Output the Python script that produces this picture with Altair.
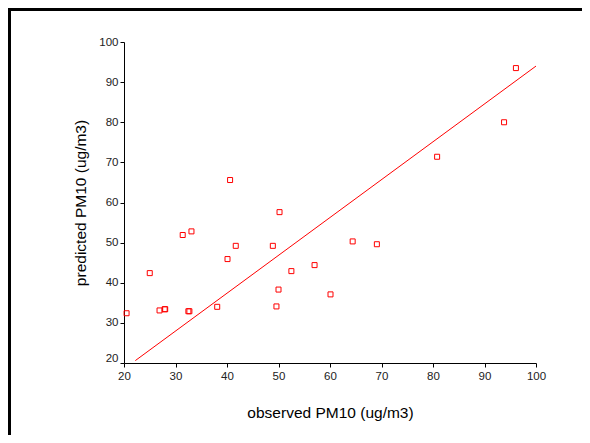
import altair as alt
import pandas as pd

observed = [20.5, 25.0, 26.9, 27.9, 28.0, 31.4, 33.1, 32.5, 32.7, 38.1, 40.1, 41.7, 40.6,
            50.2, 48.9, 52.5, 57.0, 50.0, 49.6, 60.1, 64.4, 69.1, 80.8, 96.1, 93.8]
predicted = [32.4, 42.4, 33.1, 33.4, 33.4, 51.9, 52.8, 32.9, 32.9, 34.0, 45.9, 49.2, 65.6,
             57.6, 49.2, 42.9, 44.4, 38.3, 34.1, 37.1, 50.3, 49.6, 71.4, 93.5, 80.0]
fit_x = [22.2, 100.0]
fit_y = [20.6, 94.0]
ticks = [20, 30, 40, 50, 60, 70, 80, 90, 100]

pts = pd.DataFrame({"observed": observed, "predicted": predicted})
fit = pd.DataFrame({"observed": fit_x, "predicted": fit_y})

xs = alt.Scale(domain=[20, 100], nice=False, zero=False)
ys = alt.Scale(domain=[20, 100], nice=False, zero=False)

xaxis = alt.Axis(title="observed PM10 (ug/m3)", values=ticks,
                 grid=False, tickSize=4, labelPadding=3, labelFontSize=11.5, labelFlush=False,
                 labelFont="Liberation Sans", labelColor="#222", domainColor="#000",
                 tickColor="#000", titleFont="Liberation Sans", titleFontSize=15.5,
                 titleFontWeight="normal", titleColor="#000", titleX=206, titleY=49,
                 titleBaseline="middle", titleAlign="center")
yaxis = alt.Axis(title="predicted PM10 (ug/m3)", values=ticks,
                 grid=False, tickSize=4, labelPadding=2, labelFontSize=11.5, labelFlush=False,
                 labelBaseline={"condition": {"test": "datum.value == 20", "value": "bottom"},
                                "value": "middle"},
                 labelFont="Liberation Sans", labelColor="#222", domainColor="#000",
                 tickColor="#000", titleFont="Liberation Sans", titleFontSize=15.5,
                 titleFontWeight="normal", titleColor="#000", titleX=-44, titleY=160.5,
                 titleAngle=-90, titleBaseline="middle", titleAlign="center")

points = alt.Chart(pts).mark_point(shape="square", filled=False, color="red", size=25,
                                   strokeWidth=1, opacity=1).encode(
    x=alt.X("observed:Q", scale=xs, axis=xaxis),
    y=alt.Y("predicted:Q", scale=ys, axis=yaxis),
)
line = alt.Chart(fit).mark_line(color="red", strokeWidth=1).encode(
    x=alt.X("observed:Q", scale=xs, axis=xaxis),
    y=alt.Y("predicted:Q", scale=ys, axis=yaxis),
)
border_left = alt.Chart(pts).mark_rule(color="black", strokeWidth=3).encode(
    x=alt.value(-114.5), y=alt.value(-34), y2=alt.value(400))
border_top = alt.Chart(pts).mark_rule(color="black", strokeWidth=3).encode(
    x=alt.value(-116), x2=alt.value(470), y=alt.value(-32.5))

chart = alt.layer(line, points, border_left, border_top).properties(
    width=412, height=321, background="white",
    padding={"left": 116, "top": 34, "right": 46, "bottom": 72},
    autosize=alt.AutoSizeParams(type="none"),
).configure_view(stroke=None).configure_axis(grid=False)

chart.save("out.html", embed_options={"renderer": "svg", "actions": False})
